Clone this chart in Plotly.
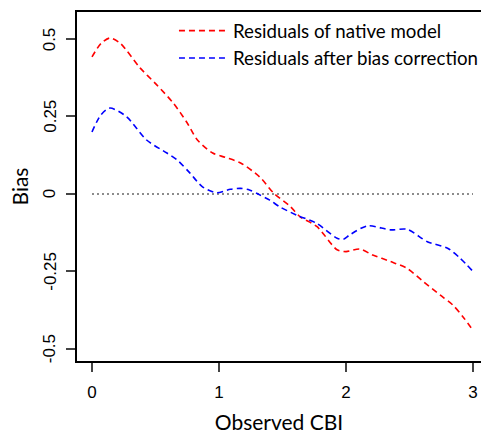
import plotly.graph_objects as go

# Observed CBI positions and smoothed bias curves
native_x = [0.0, 0.07, 0.14, 0.22, 0.38, 0.51, 0.64, 0.75, 0.83, 0.95, 1.05, 1.17, 1.32, 1.43,
            1.56, 1.64, 1.77, 1.93, 2.0, 2.11, 2.21, 2.35, 2.48, 2.61, 2.74, 2.84, 2.92, 3.0]
native_bias = [0.442, 0.485, 0.503, 0.487, 0.406, 0.352, 0.293, 0.229, 0.174, 0.132, 0.118, 0.10,
               0.055, 0.003, -0.04, -0.074, -0.105, -0.18, -0.186, -0.178, -0.197, -0.218,
               -0.24, -0.283, -0.326, -0.358, -0.396, -0.44]

corrected_x = [0.0, 0.07, 0.14, 0.27, 0.43, 0.59, 0.67, 0.77, 0.87, 0.98, 1.09, 1.17, 1.24, 1.32,
               1.40, 1.48, 1.61, 1.77, 1.93, 1.98, 2.03, 2.17, 2.35, 2.48, 2.64, 2.80, 2.90, 3.0]
corrected_bias = [0.2, 0.255, 0.277, 0.25, 0.174, 0.132, 0.11, 0.068, 0.023, 0.004, 0.015, 0.018,
                  0.013, -0.003, -0.02, -0.042, -0.068, -0.095, -0.143, -0.146, -0.132, -0.103,
                  -0.116, -0.114, -0.154, -0.175, -0.208, -0.25]

zero_x = [0, 3]
zero_y = [0, 0]

x_ticks = [0, 1, 2, 3]
y_ticks = [-0.5, -0.25, 0, 0.25, 0.5]
y_labels = ["-0.5", "-0.25", "0", "0.25", "0.5"]

fig = go.Figure()
fig.add_trace(go.Scatter(x=zero_x, y=zero_y, mode="lines", showlegend=False,
                         line=dict(color="#666666", width=1.5, dash="2px,3px")))
fig.add_trace(go.Scatter(x=native_x, y=native_bias, mode="lines", name="Residuals of native model",
                         line=dict(color="#ff0000", width=1.6, dash="6px,4px", shape="spline", smoothing=0.8)))
fig.add_trace(go.Scatter(x=corrected_x, y=corrected_bias, mode="lines",
                         name="Residuals after bias correction",
                         line=dict(color="#0000ff", width=1.6, dash="6px,4px", shape="spline", smoothing=0.8)))

# R-style vertical y tick labels, placed just left of the ticks
for val, lab in zip(y_ticks, y_labels):
    fig.add_annotation(x=-0.066, xref="paper", y=val, yref="y", text=lab, textangle=-90,
                       showarrow=False, xanchor="center", yanchor="middle",
                       font=dict(family="Liberation Sans, Arial", size=17, color="black"))

fig.update_layout(
    width=481, height=434,
    margin=dict(l=77, r=0, t=12, b=73, autoexpand=False),
    plot_bgcolor="white", paper_bgcolor="white",
    font=dict(family="Liberation Sans, Arial", size=17, color="black"),
    legend=dict(x=0.24, y=1.0, xanchor="left", yanchor="top", itemwidth=49,
                bgcolor="rgba(0,0,0,0)", font=dict(family="Lato", size=18.7)),
)
fig.update_xaxes(
    range=[-0.118, 3.063], tickvals=x_ticks, ticks="outside", ticklen=9, tickwidth=1.5,
    showline=True, linecolor="black", linewidth=2, mirror=True, showgrid=False, zeroline=False,
    ticklabelstandoff=6, automargin=False,
    title=dict(text="Observed CBI", font=dict(family="Lato", size=21), standoff=24),
)
fig.update_yaxes(
    range=[-0.539, 0.587], tickvals=y_ticks, showticklabels=False,
    ticks="outside", ticklen=9, tickwidth=1.5,
    showline=True, linecolor="black", linewidth=2, showgrid=False, zeroline=False,
    automargin=False,
    title=dict(text="Bias", font=dict(family="Lato", size=21), standoff=32),
)

# drop the page's default body margin so the figure fills the window exactly
fig.write_html("out.html", config={"displayModeBar": False},
               post_script="document.body.style.margin = '0';")
